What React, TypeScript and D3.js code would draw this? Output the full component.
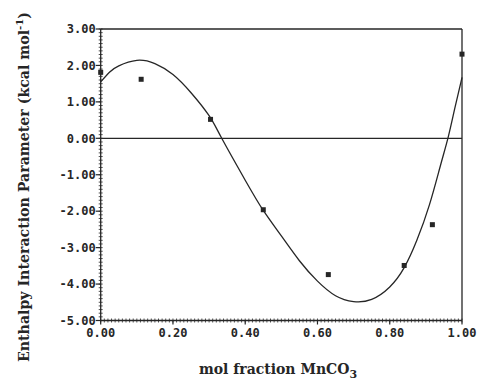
import React from "react";
import * as d3 from "d3";

const xTicks = [0, 0.2, 0.4, 0.6, 0.8, 1.0];
const yTicks = [3, 2, 1, 0, -1, -2, -3, -4, -5];

const pointX = [0.0, 0.112, 0.304, 0.45, 0.63, 0.84, 0.918, 1.0];
const pointY = [1.81, 1.62, 0.52, -1.96, -3.74, -3.49, -2.37, 2.31];

const curveX = [0, 0.025, 0.05, 0.1, 0.15, 0.2, 0.25, 0.3, 0.335, 0.4, 0.45, 0.5, 0.55, 0.6, 0.65, 0.7, 0.75, 0.8, 0.84, 0.875, 0.91, 0.94, 0.962, 0.98, 1.0];
const curveY = [1.55, 1.82, 1.99, 2.14, 2.05, 1.75, 1.25, 0.62, 0, -1.15, -1.98, -2.68, -3.36, -3.92, -4.32, -4.48, -4.42, -4.08, -3.55, -2.8, -1.82, -0.76, 0.04, 0.82, 1.67];

const W = 480;
const H = 382;
const left = 100.7;
const right = 462;
const top = 29;
const bottom = 320.5;

export default function App() {
  const x = d3.scaleLinear().domain([0, 1]).range([left, right]);
  const y = d3.scaleLinear().domain([-5, 3]).range([bottom, top]);
  const line = d3
    .line<number>()
    .x((_, i) => x(curveX[i]))
    .y((d) => y(d))
    .curve(d3.curveNatural);

  const xMinor = d3.range(0, 101).map((i) => i / 100);
  const yMinor = d3.range(-50, 31).map((i) => i / 10);
  const ink = "#262626";
  const mono = "'DejaVu Sans Mono', monospace";
  const serif = "'DejaVu Serif', serif";

  return (
    <svg width={W} height={H} style={{ position: "absolute", left: 0, top: 0, background: "#fff" }}>
      {xMinor.map((v, i) => (
        <line key={"xm" + i} x1={x(v)} x2={x(v)} y1={bottom - 2} y2={bottom + 2} stroke={ink} strokeWidth={0.8} />
      ))}
      {yMinor.map((v, i) => (
        <line key={"ym" + i} x1={left - 2} x2={left + 2} y1={y(v)} y2={y(v)} stroke={ink} strokeWidth={0.8} />
      ))}
      {yTicks.map((v) => (
        <g key={"yt" + v}>
          <line x1={left - 5} x2={left} y1={y(v)} y2={y(v)} stroke={ink} strokeWidth={1.2} />
          <text x={left - 5} y={y(v)} dy="0.35em" textAnchor="end" fontFamily={mono} fontWeight="bold" fontSize={12} fill={ink}>
            {v.toFixed(2)}
          </text>
        </g>
      ))}
      {xTicks.map((v) => (
        <g key={"xt" + v}>
          <line x1={x(v)} x2={x(v)} y1={bottom} y2={bottom + 4} stroke={ink} strokeWidth={1.2} />
          <text x={x(v)} y={bottom + 16} textAnchor="middle" fontFamily={mono} fontWeight="bold" fontSize={12} fill={ink}>
            {v.toFixed(2)}
          </text>
        </g>
      ))}
      <line x1={left} x2={left} y1={top} y2={bottom} stroke={ink} strokeWidth={1.3} />
      <line x1={left} x2={right} y1={bottom} y2={bottom} stroke={ink} strokeWidth={1.3} />
      <line x1={left} x2={right} y1={top} y2={top} stroke={ink} strokeWidth={1.3} />
      <line x1={right} x2={right} y1={top} y2={bottom} stroke={ink} strokeWidth={1.3} />
      <line x1={left} x2={right} y1={y(0)} y2={y(0)} stroke={ink} strokeWidth={1.2} />
      <path d={line(curveY) || ""} fill="none" stroke={ink} strokeWidth={1.3} />
      {pointX.map((v, i) => (
        <rect key={"p" + i} x={x(v) - 2.5} y={y(pointY[i]) - 2.5} width={5} height={5} fill={ink} />
      ))}
      <text
        transform={`translate(29, 187) rotate(-90)`}
        textAnchor="middle"
        fontFamily={serif}
        fontWeight="bold"
        fontSize={14}
        fill={ink}
        textLength={350}
        lengthAdjust="spacingAndGlyphs"
      >
        Enthalpy Interaction Parameter (kcal mol<tspan dy={-6} fontSize={10}>-1</tspan><tspan dy={6}>)</tspan>
      </text>
      <text x={278} y={374} textAnchor="middle" fontFamily={serif} fontWeight="bold" fontSize={14} fill={ink}>
        mol fraction MnCO<tspan dy={4} fontSize={11}>3</tspan>
      </text>
    </svg>
  );
}
